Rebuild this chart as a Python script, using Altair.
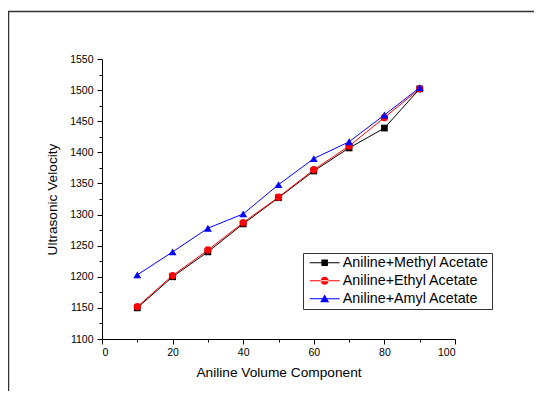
import altair as alt
import pandas as pd

# ---- data ----
x_vals = [10, 20, 30, 40, 50, 60, 70, 80, 90]
methyl = [1150, 1200, 1240, 1285, 1327, 1370, 1407, 1439, 1502]
ethyl = [1152, 1202, 1243, 1287, 1328, 1372, 1410, 1456, 1502]
amyl = [1203, 1240, 1278, 1301, 1348, 1390, 1417, 1460, 1504]
series_names = ["Aniline+Methyl Acetate", "Aniline+Ethyl Acetate", "Aniline+Amyl Acetate"]

x_major = [0, 20, 40, 60, 80, 100]
x_minor = [10, 30, 50, 70, 90]
y_major = list(range(1100, 1551, 50))
y_minor = list(range(1125, 1550, 50))

rows = []
for name, vals in zip(series_names, [methyl, ethyl, amyl]):
    for xv, yv in zip(x_vals, vals):
        rows.append({"x": xv, "y": yv, "series": name})
df = pd.DataFrame(rows)

colors = ["#000000", "#ff0000", "#0000ff"]
markers = ["square", "circle", "triangle-up"]
marker_sizes = [45, 62, 78]
FONT = "Liberation Sans"

xs = alt.Scale(domain=[0, 100], nice=False, zero=False)
ys = alt.Scale(domain=[1100, 1550], nice=False, zero=False)
color_scale = alt.Scale(domain=series_names, range=colors)

x_axis = alt.Axis(values=x_major, format="d", tickSize=5, labelPadding=3,
                  title="Aniline Volume Component", titlePadding=8, grid=False)
y_axis = alt.Axis(values=y_major, format="d", tickSize=5, labelPadding=4,
                  title="Ultrasonic Velocity", titlePadding=10, grid=False)
hidden_x = alt.Axis(labels=False, ticks=False, domain=False, title=None, orient="bottom", grid=False)
hidden_y = alt.Axis(labels=False, ticks=False, domain=False, title=None, orient="left", grid=False)

lines = alt.Chart(df).mark_line(strokeWidth=1).encode(
    x=alt.X("x:Q", scale=xs, axis=x_axis),
    y=alt.Y("y:Q", scale=ys, axis=y_axis),
    color=alt.Color("series:N", scale=color_scale, legend=None),
)

points = alt.Chart(df).mark_point(filled=True, opacity=1).encode(
    x=alt.X("x:Q", scale=xs, axis=None),
    y=alt.Y("y:Q", scale=ys, axis=None),
    color=alt.Color("series:N", scale=color_scale, legend=None),
    shape=alt.Shape("series:N", scale=alt.Scale(domain=series_names, range=markers),
                    legend=None),
    size=alt.Size("series:N", scale=alt.Scale(domain=series_names, range=marker_sizes),
                  legend=None),
)

# legend symbols: line + marker
leg_paths = [
    "M-3,-0.1H3V0.1H-3Z M-0.65,-0.65H0.65V0.65H-0.65Z",
    "M-3,-0.1H3V0.1H-3Z M-0.8,0A0.8,0.8 0 1,0 0.8,0A0.8,0.8 0 1,0 -0.8,0Z",
    "M-3,-0.1H3V0.1H-3Z M0,-0.85L0.9,0.7H-0.9Z",
]
legend = alt.Legend(orient="none", legendX=201, legendY=194, title=None,
                    strokeColor="#333333", padding=2.5, symbolSize=100,
                    symbolOffset=12, labelOffset=11, rowPadding=3,
                    labelFont=FONT, labelFontSize=14.3, labelColor="black",
                    symbolStrokeWidth=0, symbolOpacity=1,
                    symbolFillColor=alt.ExprRef("scale('color', datum.value)"))
legend_layer = alt.Chart(df).transform_filter("false").mark_point(filled=True, size=100).encode(
    x=alt.X("x:Q", scale=xs, axis=hidden_x),
    y=alt.Y("y:Q", scale=ys, axis=hidden_y),
    color=alt.Color("series:N", scale=color_scale, legend=None),
    shape=alt.Shape("series:N", scale=alt.Scale(domain=series_names, range=leg_paths),
                    legend=legend),
)

minor = alt.Chart(df).mark_point(opacity=0).encode(
    x=alt.X("x:Q", scale=xs, axis=alt.Axis(values=x_minor, labels=False, domain=False,
                                          tickSize=3, title=None, orient="bottom", grid=False)),
    y=alt.Y("y:Q", scale=ys, axis=alt.Axis(values=y_minor, labels=False, domain=False,
                                          tickSize=3, title=None, orient="left", grid=False)),
)

frame = alt.Chart(pd.DataFrame({"a": [0]})).mark_rect(
    fill="transparent", stroke="#333333", strokeWidth=1.5).encode(
    x=alt.value(-93.5), x2=alt.value(440), y=alt.value(-47.5), y2=alt.value(345))

chart = alt.layer(frame, lines, points, legend_layer, minor).resolve_scale(
    shape="independent").resolve_axis(x="independent", y="independent").properties(
    width=353, height=280,
    autosize=alt.AutoSizeParams(type="none"),
    padding={"left": 94, "top": 51, "right": 79, "bottom": 52},
).configure_axis(
    labelFont=FONT, titleFont=FONT, labelFontSize=10.5, titleFontSize=13.7,
    titleFontWeight="normal", domainColor="black", tickColor="black",
    labelColor="black", titleColor="black", domainWidth=1, tickWidth=1,
).configure_legend(strokeWidth=1).configure_view(strokeWidth=0)

chart.save("out.html", embed_options={"renderer": "svg", "actions": False})
